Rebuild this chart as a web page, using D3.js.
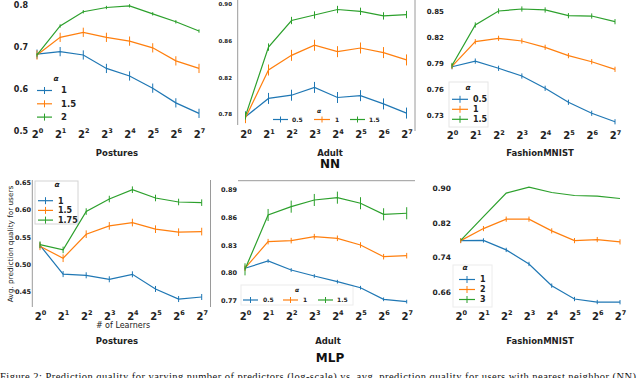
<!DOCTYPE html>
<html>
<head>
<meta charset="utf-8">
<script src="https://cdn.jsdelivr.net/npm/d3@7"></script>
<style>
  body { margin: 0; background: #fff; }
  svg { display: block; font-family: "DejaVu Sans", sans-serif; }
</style>
</head>
<body>
<div id="chart"></div>
<script>
// number of learners (x axis, log2 scale)
const learners = [1, 2, 4, 8, 16, 32, 64, 128];
const colors = ["#1f77b4", "#ff7f0e", "#2ca02c"];

// NN - Postures
const nnPosturesAlphas = ["1", "1.5", "2"];
const nnPostures1  = [0.683, 0.689, 0.681, 0.649, 0.631, 0.602, 0.567, 0.542];
const nnPostures15 = [0.681, 0.723, 0.735, 0.723, 0.714, 0.698, 0.667, 0.649];
const nnPostures2  = [0.681, 0.750, 0.784, 0.794, 0.798, 0.779, 0.760, 0.738];
const nnPosturesErr = [0.011, 0.011, 0.004];
const nnPosturesTicks = [0.5, 0.6, 0.7, 0.8];

// NN - Adult
const nnAdultAlphas = ["0.5", "1", "1.5"];
const nnAdult05 = [0.777, 0.797, 0.8005, 0.809, 0.798, 0.800, 0.791, 0.781];
const nnAdult1  = [0.776, 0.828, 0.844, 0.855, 0.848, 0.852, 0.847, 0.839];
const nnAdult15 = [0.778, 0.853, 0.882, 0.888, 0.894, 0.892, 0.887, 0.8885];
const nnAdultErr = [0.006, 0.006, 0.004];
const nnAdultTicks = [0.78, 0.82, 0.86, 0.90];

// NN - FashionMNIST
const nnFashionAlphas = ["0.5", "1", "1.5"];
const nnFashion05 = [0.7865, 0.793, 0.7847, 0.7758, 0.7616, 0.7455, 0.7328, 0.723];
const nnFashion1  = [0.787, 0.8154, 0.8193, 0.8162, 0.8089, 0.7993, 0.7923, 0.7835];
const nnFashion15 = [0.788, 0.8347, 0.8508, 0.8531, 0.852, 0.8454, 0.845, 0.8385];
const nnFashionErr = [0.003, 0.003, 0.003];
const nnFashionTicks = [0.73, 0.76, 0.79, 0.82, 0.85];

// MLP - Postures
const mlpPosturesAlphas = ["1", "1.5", "1.75"];
const mlpPostures1   = [0.5347, 0.4822, 0.480, 0.4727, 0.4818, 0.455, 0.4366, 0.4403];
const mlpPostures15  = [0.533, 0.5112, 0.5551, 0.5703, 0.5764, 0.5643, 0.5588, 0.5599];
const mlpPostures175 = [0.536, 0.5264, 0.5965, 0.6194, 0.6365, 0.6213, 0.614, 0.6128];
const mlpPosturesErr = [0.0055, 0.007, 0.006];
const mlpPosturesTicks = [0.45, 0.50, 0.55, 0.60, 0.65];

// MLP - Adult
const mlpAdultAlphas = ["0.5", "1", "1.5"];
const mlpAdult05 = [0.8049, 0.8128, 0.8031, 0.7966, 0.7905, 0.784, 0.7715, 0.769];
const mlpAdult1  = [0.805, 0.8336, 0.8347, 0.839, 0.8372, 0.83, 0.8174, 0.8185];
const mlpAdult15 = [0.8038, 0.8623, 0.8713, 0.8785, 0.881, 0.875, 0.8631, 0.8642];
const mlpAdultErr = [0.002, 0.003, 0.0065];
const mlpAdultTicks = [0.77, 0.80, 0.83, 0.86, 0.89];

// MLP - FashionMNIST
const mlpFashionAlphas = ["1", "2", "3"];
const mlpFashion1 = [0.7786, 0.779, 0.757, 0.7244, 0.674, 0.643, 0.636, 0.6356];
const mlpFashion2 = [0.7786, 0.8065, 0.8284, 0.8284, 0.8012, 0.7786, 0.781, 0.7756];
const mlpFashion3 = [0.779, 0.8344, 0.8888, 0.9028, 0.8902, 0.8833, 0.8818, 0.8763];
const mlpFashionErr = [0.005, 0.006, 0];
const mlpFashionTicks = [0.66, 0.74, 0.82, 0.90];

const W = 640, H = 378;

const svg = d3.select("#chart").append("svg")
    .attr("width", W)
    .attr("height", H);

const panels = [
    { title: "Postures", tx: 117, ty: 155.5, series: [nnPostures1, nnPostures15, nnPostures2],
      alphas: nnPosturesAlphas, err: nnPosturesErr, ticks: nnPosturesTicks, fmt: ".1f",
      xr: [37, 199], yd: [0.5, 0.8], yr: [131, 5], labelX: 28, tickFs: 8, xBase: 137.5,
      legend: { type: "v", ax: 56, ay: 81, x0: 37, x1: 52, tx: 61, y0: 90.5, dy: 13.3, fs: 8.5 } },
    { title: "Adult", tx: 330, ty: 155.5, series: [nnAdult05, nnAdult1, nnAdult15],
      alphas: nnAdultAlphas, err: nnAdultErr, ticks: nnAdultTicks, fmt: ".2f",
      xr: [245.5, 406.5], yd: [0.78, 0.90], yr: [114, 4], labelX: 232, tickFs: 5.5, xBase: 138,
      legend: { type: "h", ax: 319, ay: 112.5, y: 119.5, items: [[273, 288, 292], [314, 330, 335], [350, 365, 369]], fs: 6 } },
    { title: "FashionMNIST", tx: 540, ty: 155.5, series: [nnFashion05, nnFashion1, nnFashion15],
      alphas: nnFashionAlphas, err: nnFashionErr, ticks: nnFashionTicks, fmt: ".2f",
      xr: [452, 615], yd: [0.73, 0.85], yr: [115.7, 11.7], labelX: 444, tickFs: 7, xBase: 139,
      legend: { type: "v", ax: 468, ay: 90, x0: 452, x1: 468, tx: 473, y0: 99.3, dy: 10, fs: 8,
                box: [449, 82, 39, 45], boxColor: "#e6e6e6" } },
    { title: "Postures", tx: 117, ty: 344, series: [mlpPostures1, mlpPostures15, mlpPostures175],
      alphas: mlpPosturesAlphas, err: mlpPosturesErr, ticks: mlpPosturesTicks, fmt: ".2f",
      xr: [40, 201.7], yd: [0.45, 0.65], yr: [291.7, 182.3], labelX: 31, tickFs: 6.5, xBase: 319.5,
      legend: { type: "v", ax: 57, ay: 187, x0: 38, x1: 53, tx: 58, y0: 200.7, dy: 9.7, fs: 8,
                box: [35, 181, 43, 43], boxColor: "#d4d4d4" } },
    { title: "Adult", tx: 328, ty: 344, series: [mlpAdult05, mlpAdult1, mlpAdult15],
      alphas: mlpAdultAlphas, err: mlpAdultErr, ticks: mlpAdultTicks, fmt: ".2f",
      xr: [245, 406.7], yd: [0.77, 0.89], yr: [300.7, 189.3], labelX: 237, tickFs: 6.5, xBase: 319.5,
      legend: { type: "h", ax: 297, ay: 291.5, y: 300, items: [[243, 258, 263], [283, 298, 303], [318, 333, 337]], fs: 6,
                box: [241, 285, 112, 20], boxColor: "#ececec" } },
    { title: "FashionMNIST", tx: 540, ty: 344, series: [mlpFashion1, mlpFashion2, mlpFashion3],
      alphas: mlpFashionAlphas, err: mlpFashionErr, ticks: mlpFashionTicks, fmt: ".2f",
      xr: [460.7, 620], yd: [0.66, 0.90], yr: [291.7, 188.3], labelX: 451, tickFs: 7.5, xBase: 319.5,
      legend: { type: "v", ax: 465, ay: 270, x0: 459, x1: 475, tx: 480, y0: 279.5, dy: 10, fs: 8,
                box: [453, 265, 39, 42], boxColor: "#ececec" } }
];

// stray spines visible in the composite figure
const spineColor = "#9a9a9a";
[[237.7, 0, 237.7, 125], [415, 0, 415, 131], [32.3, 180, 32.3, 307], [210.5, 180, 210.5, 307], [238, 180.7, 415, 180.7]]
    .forEach(s => svg.append("line")
        .attr("x1", s[0]).attr("y1", s[1]).attr("x2", s[2]).attr("y2", s[3])
        .attr("stroke", spineColor).attr("stroke-width", 1));

panels.forEach(p => drawPanel(p));

function drawPanel(p) {
    const g = svg.append("g");

    const xScale = d3.scaleLog().base(2).domain([1, 128]).range(p.xr);
    const yScale = d3.scaleLinear().domain(p.yd).range(p.yr);

    // legend box first (behind)
    if (p.legend.box) {
        const b = p.legend.box;
        g.append("rect")
            .attr("x", b[0]).attr("y", b[1]).attr("width", b[2]).attr("height", b[3])
            .attr("fill", "none").attr("stroke", p.legend.boxColor).attr("stroke-width", 1);
    }

    // y axis
    const yAxis = d3.axisLeft(yScale)
        .tickValues(p.ticks)
        .tickSize(0)
        .tickPadding(0)
        .tickFormat(d3.format(p.fmt));
    g.append("g")
        .attr("transform", `translate(${p.labelX}, 0)`)
        .call(yAxis)
        .call(a => a.select(".domain").remove())
        .selectAll("text")
        .attr("font-family", "DejaVu Sans")
        .attr("font-weight", "bold")
        .attr("font-size", p.tickFs)
        .attr("fill", "#222");

    // x axis with 2^k labels
    const xAxis = d3.axisBottom(xScale)
        .tickValues(learners)
        .tickSize(0)
        .tickFormat(() => "2");
    const xg = g.append("g")
        .attr("transform", `translate(0, ${p.xBase})`)
        .call(xAxis)
        .call(a => a.select(".domain").remove());
    xg.selectAll("text")
        .attr("y", 0).attr("dy", 0)
        .attr("font-family", "DejaVu Sans")
        .attr("font-weight", "bold")
        .attr("font-size", 10)
        .attr("fill", "#222")
        .append("tspan")
        .attr("dy", -4.5)
        .attr("font-size", 6.5)
        .text(d => Math.round(Math.log2(d)));

    // series: lines + vertical error bars
    const line = d3.line()
        .x((d, i) => xScale(learners[i]))
        .y(d => yScale(d));

    p.series.forEach((s, k) => {
        g.append("path")
            .datum(s)
            .attr("d", line)
            .attr("fill", "none")
            .attr("stroke", colors[k])
            .attr("stroke-width", 1.2);
        if (p.err[k] > 0) {
            g.selectAll(null)
                .data(s)
                .enter()
                .append("line")
                .attr("x1", (d, i) => xScale(learners[i]))
                .attr("x2", (d, i) => xScale(learners[i]))
                .attr("y1", d => yScale(d - p.err[k]))
                .attr("y2", d => yScale(d + p.err[k]))
                .attr("stroke", colors[k])
                .attr("stroke-width", 1);
        }
    });

    // legend
    const L = p.legend;
    g.append("text")
        .attr("x", L.ax).attr("y", L.ay)
        .attr("text-anchor", "middle")
        .attr("font-style", "italic")
        .attr("font-weight", "bold")
        .attr("font-size", L.type === "h" ? 6 : 7.5)
        .attr("fill", "#222")
        .text("α");
    p.alphas.forEach((a, k) => {
        let x0, x1, tx, y;
        if (L.type === "v") {
            x0 = L.x0; x1 = L.x1; tx = L.tx; y = L.y0 + k * L.dy;
        } else {
            x0 = L.items[k][0]; x1 = L.items[k][1]; tx = L.items[k][2]; y = L.y;
        }
        const half = L.type === "v" ? 3.5 : 3;
        g.append("line")
            .attr("x1", x0).attr("x2", x1).attr("y1", y).attr("y2", y)
            .attr("stroke", colors[k]).attr("stroke-width", 1.2);
        g.append("line")
            .attr("x1", (x0 + x1) / 2).attr("x2", (x0 + x1) / 2)
            .attr("y1", y - half).attr("y2", y + half)
            .attr("stroke", colors[k]).attr("stroke-width", 1);
        g.append("text")
            .attr("x", tx).attr("y", y)
            .attr("dy", "0.35em")
            .attr("font-weight", "bold")
            .attr("font-size", L.fs)
            .attr("fill", "#222")
            .text(a);
    });

    // subplot title
    g.append("text")
        .attr("x", p.tx).attr("y", p.ty)
        .attr("text-anchor", "middle")
        .attr("font-weight", "bold")
        .attr("font-size", 8.5)
        .attr("fill", "#222")
        .text(p.title);
}

// axis labels on the MLP Postures panel
svg.append("text")
    .attr("transform", "translate(12.5, 244) rotate(-90)")
    .attr("text-anchor", "middle")
    .attr("font-size", 7.3)
    .attr("fill", "#222")
    .text("Avg. prediction quality for users");
svg.append("text")
    .attr("x", 123).attr("y", 328)
    .attr("text-anchor", "middle")
    .attr("font-size", 8)
    .attr("fill", "#222")
    .text("# of Learners");

// row labels
svg.append("text")
    .attr("x", 330).attr("y", 168)
    .attr("text-anchor", "middle")
    .attr("font-weight", "bold")
    .attr("font-size", 12)
    .attr("fill", "#111")
    .text("NN");
svg.append("text")
    .attr("x", 330).attr("y", 362)
    .attr("text-anchor", "middle")
    .attr("font-weight", "bold")
    .attr("font-size", 12)
    .attr("fill", "#111")
    .text("MLP");

// caption (runs past the bottom edge, as in the figure)
svg.append("text")
    .attr("x", 0).attr("y", 380)
    .attr("font-family", "Liberation Serif")
    .attr("font-size", 10.5)
    .attr("textLength", 636)
    .attr("lengthAdjust", "spacing")
    .attr("fill", "#111")
    .text("Figure 2: Prediction quality for varying number of predictors (log-scale) vs. avg. prediction quality for users with nearest neighbor (NN)");
</script>
</body>
</html>
